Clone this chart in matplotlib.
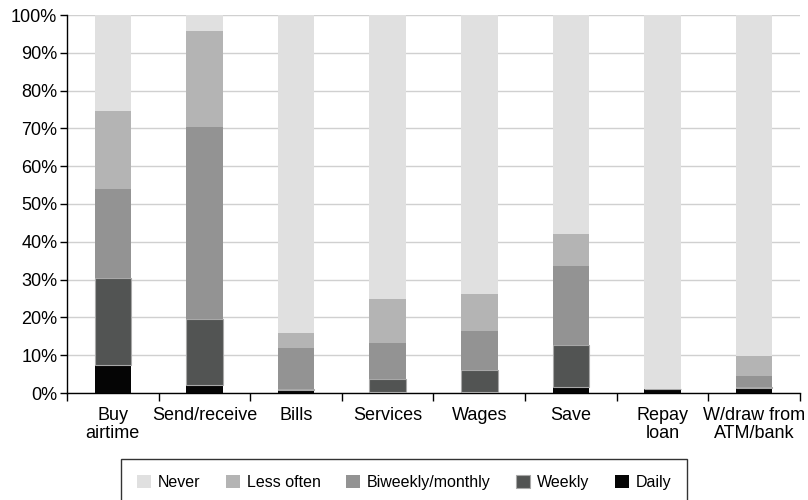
import matplotlib.pyplot as plt
import numpy as np
from matplotlib.ticker import FixedLocator, PercentFormatter

plt.rcParams['font.family'] = ['Liberation Sans', 'DejaVu Sans']

# Data (percent of respondents)
categories = ['Buy\nairtime', 'Send/receive', 'Bills', 'Services', 'Wages',
              'Save', 'Repay\nloan', 'W/draw from\nATM/bank']
daily = [7.4, 2.0, 0.8, 0.3, 0.3, 1.5, 1.0, 1.3]
weekly = [22.9, 17.5, 0.2, 3.4, 5.7, 11.1, 0.0, 0.2]
biweekly = [23.7, 51.0, 11.0, 9.6, 10.5, 20.9, 0.0, 3.0]
less_often = [20.5, 25.3, 4.0, 11.7, 9.8, 8.5, 0.0, 5.3]
never = [100 - d - w - b - l for d, w, b, l in zip(daily, weekly, biweekly, less_often)]

series = [
    ('Never', never, '#e0e0e0'),
    ('Less often', less_often, '#b4b4b4'),
    ('Biweekly/monthly', biweekly, '#939393'),
    ('Weekly', weekly, '#525453'),
    ('Daily', daily, '#050505'),
]

fig = plt.figure(figsize=(8.08, 5.0), dpi=100)
ax = fig.add_axes([0.083, 0.214, 0.907, 0.756])

x = np.arange(len(categories))
width = 0.4

# stack from bottom: daily, weekly, biweekly, less often, never
bottom = np.zeros(len(categories))
handles = {}
for label, vals, color in reversed(series):
    vals = np.array(vals)
    edge = '#a8a8a8' if label == 'Weekly' else color
    bars = ax.bar(x, vals, width, bottom=bottom, color=color,
                  edgecolor=edge, linewidth=0.8 if label == 'Weekly' else 0,
                  label=label, zorder=3)
    handles[label] = bars
    bottom += vals

ax.set_xlim(-0.5, len(categories) - 0.5)
ax.set_ylim(0, 100)
ax.set_yticks(np.arange(0, 101, 10))
ax.yaxis.set_major_formatter(PercentFormatter(decimals=0))
ax.grid(axis='y', color='#d0d0d0', linewidth=1, zorder=0)
ax.set_axisbelow(True)

ax.set_xticks(x)
ax.set_xticklabels(categories, fontsize=13, linespacing=1.05)
ax.tick_params(axis='x', which='major', length=0, pad=10)
ax.xaxis.set_minor_locator(FixedLocator(np.arange(-0.5, len(categories), 1.0)))
ax.tick_params(axis='x', which='minor', length=6, width=1, color='black')
ax.tick_params(axis='y', labelsize=13, length=5, width=1, color='black', pad=2)

for side in ['top', 'right']:
    ax.spines[side].set_visible(False)
for side in ['left', 'bottom']:
    ax.spines[side].set_color('black')
    ax.spines[side].set_linewidth(1)

order = ['Never', 'Less often', 'Biweekly/monthly', 'Weekly', 'Daily']
leg = fig.legend([handles[k] for k in order], order, loc='upper center',
                 bbox_to_anchor=(0.5, 0.082), ncol=5, fontsize=11.5,
                 frameon=True, fancybox=False, edgecolor='black',
                 handlelength=0.9, handleheight=0.9, handletextpad=0.4,
                 columnspacing=1.6, borderpad=1.0, borderaxespad=0)
leg.get_frame().set_linewidth(1)

fig.savefig('out.png', dpi=100)
